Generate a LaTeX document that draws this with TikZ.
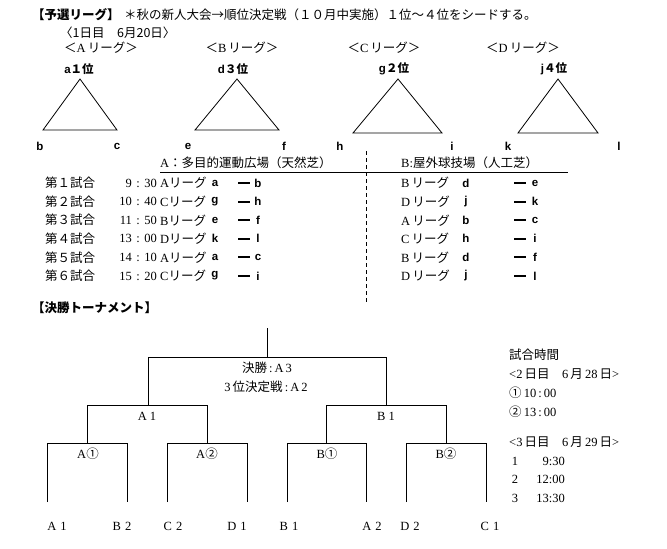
\documentclass[tikz,border=0pt]{standalone}
\usepackage{fontspec}
\setmainfont{Liberation Serif}
\newfontfamily\jp{Noto Sans CJK JP}
\newfontfamily\gs{Liberation Sans}
\newcommand{\R}[1]{{\rmfamily #1}}
\newcommand{\J}[1]{{\jp #1}}
\begin{document}
\begin{tikzpicture}[x=1pt,y=-1pt,
  txt/.style={inner sep=0pt, font=\fontsize{12.5}{14}\selectfont\jp},
  ser/.style={inner sep=0pt, font=\fontsize{12.5}{14}\selectfont\rmfamily},
  lt/.style={inner sep=0pt, font=\fontsize{11.5}{13}\selectfont\gs\bfseries},
  bar/.style={inner sep=0pt, minimum width=12pt, minimum height=2pt, fill=black},
  ln/.style={line width=0.8pt},
  dsh/.style={line width=0.8pt, dash pattern=on 4pt off 3pt}]
\useasboundingbox (0,0) rectangle (667,549);
\fill[white] (0,0) rectangle (667,549);

% ---------- title ----------
\node[txt, anchor=west, font=\fontsize{12.5}{14}\selectfont\jp\bfseries] (title) at (32,15) {【予選リーグ】};
\node[txt, anchor=west] (note) at (124,15) {＊秋の新人大会→順位決定戦（１０月中実施）１位～４位をシードする。};
\node[txt, anchor=west] (day1) at (60,33) {〈1日目　6月20日〉};

% ---------- league labels ----------
\foreach \cx/\L/\nm in {101/A/la,242/B/lb,384/C/lc,523/D/ld}
  \node[txt] (\nm) at (\cx,48) {＜\R{\L}\,リーグ＞};

% ---------- seeds ----------
\node[lt] (sa) at (79,69) {a\J{\bfseries １位}};
\node[lt] (sd) at (233,69) {d\J{\bfseries ３位}};
\node[lt] (sg) at (394,69) {g\J{\bfseries ２位}};
\node[lt] (sj) at (554,69) {j\J{\bfseries ４位}};

% ---------- triangles ----------
\coordinate (ta) at (80,79);  \coordinate (tb) at (43,130);  \coordinate (tc) at (117,130);
\coordinate (td) at (237,79); \coordinate (te) at (195,130); \coordinate (tf) at (279,130);
\coordinate (tg) at (398,79); \coordinate (th) at (353,133); \coordinate (ti) at (442,133);
\coordinate (tj) at (558,79); \coordinate (tk) at (518,133); \coordinate (tl) at (598,133);
\draw[ln] (ta) -- (tb) -- (tc) -- cycle;
\draw[ln] (td) -- (te) -- (tf) -- cycle;
\draw[ln] (tg) -- (th) -- (ti) -- cycle;
\draw[ln] (tj) -- (tk) -- (tl) -- cycle;

\foreach \x/\t in {40/b,117/c,188/e,284/f,340/h,452/i,508/k,619/l}
  \node[lt] (p\t) at (\x,146) {\t};

% ---------- match table ----------
\node[txt, anchor=west] (fa) at (160,163) {\R{A}：多目的運動広場（天然芝）};
\node[txt, anchor=west] (fb) at (401,163) {\R{B:}屋外球技場（人工芝）};
\coordinate (u1) at (160,172.5);
\coordinate (u2) at (568,172.5);
\draw[ln] (u1) -- (u2);
\coordinate (d1) at (366,151);
\coordinate (d2) at (366,303);
\draw[dsh] (d1) -- (d2);

\foreach \g/\h/\m/\La/\a/\b/\Lb/\c/\d [count=\i] in {
  第１試合/9/30/A/a/b/B/d/e,
  第２試合/10/40/C/g/h/D/j/k,
  第３試合/11/50/B/e/f/A/b/c,
  第４試合/13/00/D/k/l/C/h/i,
  第５試合/14/10/A/a/c/B/d/f,
  第６試合/15/20/C/g/i/D/j/l}{
  \pgfmathsetmacro{\yy}{183+18.6*(\i-1)}
  \node[txt, anchor=west] (g\i) at (45,\yy) {\g};
  \node[ser, anchor=east] (tm\i) at (157,\yy) {\h\hspace{4.5pt}:\hspace{4.5pt}\m};
  \node[txt, anchor=west] (la\i) at (160,\yy) {\R{\La}リーグ};
  \node[lt] (xa\i) at (215,\yy) {\a};
  \node[bar] (da\i) at (244,\yy) {};
  \node[lt] (ya\i) at (258,\yy) {\b};
  \node[txt, anchor=west] (lb\i) at (401,\yy) {\R{\Lb}\,リーグ};
  \node[lt] (xb\i) at (466,\yy) {\c};
  \node[bar] (db\i) at (520,\yy) {};
  \node[lt] (yb\i) at (535,\yy) {\d};
}

% ---------- final tournament ----------
\node[txt, anchor=west, font=\fontsize{12.5}{14}\selectfont\jp\bfseries] (ftitle) at (32,308) {【決勝トーナメント】};

\coordinate (top) at (267,328);
\coordinate (tm) at (267,357);
\coordinate (hl) at (148,357); \coordinate (hr) at (386,357);
\coordinate (al) at (148,405); \coordinate (br) at (386,405);
\draw[ln] (top) -- (tm);
\draw[ln] (al) -- (hl) -- (hr) -- (br);

\coordinate (a1l) at (87,405);  \coordinate (a1r) at (207,405);
\coordinate (b1l) at (326,405); \coordinate (b1r) at (446,405);
\draw[ln] (a1l) -- (a1r);
\draw[ln] (b1l) -- (b1r);
\foreach \x/\n in {87/q1,207/q2,326/q3,446/q4}{
  \coordinate (\n t) at (\x,405);
  \coordinate (\n b) at (\x,443);
  \draw[ln] (\n t) -- (\n b);
}
\foreach \l/\r/\n in {47/127/m1,167/247/m2,287/366/m3,406/486/m4}{
  \coordinate (\n a) at (\l,502);
  \coordinate (\n b) at (\l,443);
  \coordinate (\n c) at (\r,443);
  \coordinate (\n d) at (\r,502);
  \draw[ln] (\n a) -- (\n b) -- (\n c) -- (\n d);
}

\node[txt] (fin) at (267,368) {決勝\R{\,:\,A\,3}};
\node[txt] (third) at (266,387) {\R{3\,}位決定戦\R{\,:\,A\,2}};
\node[ser] (sA1) at (147,416) {A\hspace{3pt}1};
\node[ser] (sB1) at (386,416) {B\hspace{3pt}1};
\node[txt] (sA1c) at (88,454) {\R{A}①};
\node[txt] (sA2c) at (207,454) {\R{A}②};
\node[txt] (sB1c) at (327,454) {\R{B}①};
\node[txt] (sB2c) at (446,454) {\R{B}②};

\foreach \x/\t/\n/\nm in {57/A/1/e1,122/B/2/e2,173/C/2/e3,237/D/1/e4,289/B/1/e5,372/A/2/e6,410/D/2/e7,490/C/1/e8}
  \node[ser] (\nm) at (\x,526) {\t\hspace{4pt}\n};

% ---------- schedule ----------
\node[txt, anchor=west] (sch) at (509,355) {試合時間};
\node[txt, anchor=west] (day2) at (509,374) {\R{<2\,}日目　\R{6\,}月\R{\,28\,}日\R{>}};
\node[txt, anchor=west] (r1) at (509,393) {①\R{\,10\,:\,00}};
\node[txt, anchor=west] (r2) at (509,412) {②\R{\,13\,:\,00}};
\node[txt, anchor=west] (day3) at (509,442) {\R{<3\,}日目　\R{6\,}月\R{\,29\,}日\R{>}};
\foreach \k/\t [count=\i] in {1/9:30,2/12:00,3/13:30}{
  \pgfmathsetmacro{\yy}{461+18.5*(\i-1)}
  \node[ser] (k\i) at (515,\yy) {\k};
  \node[ser, anchor=east] (kt\i) at (565,\yy) {\t};
}
\end{tikzpicture}
\end{document}
